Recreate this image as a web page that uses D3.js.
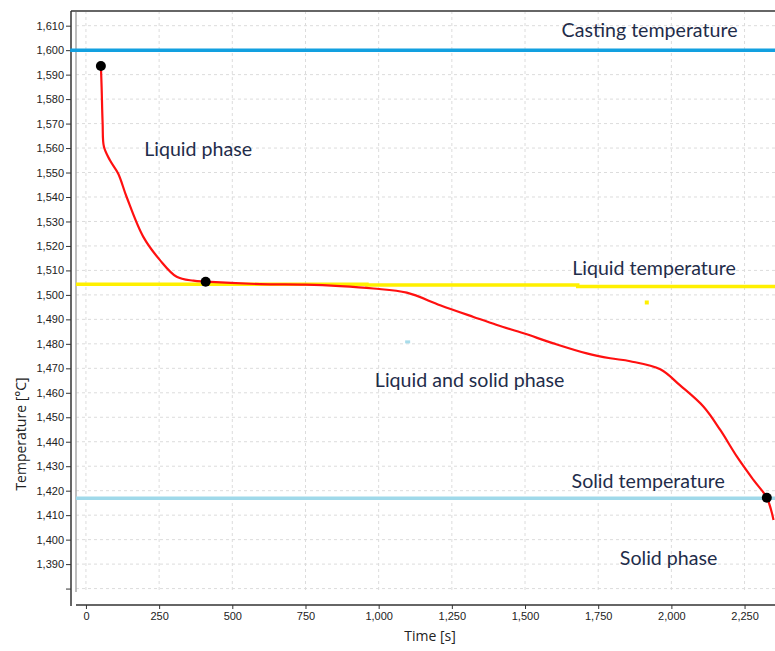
<!DOCTYPE html>
<html>
<head>
<meta charset="utf-8">
<script src="https://d3js.org/d3.v7.min.js"></script>
<style>
  body { margin: 0; background: #fff; }
  svg { display: block; }
</style>
</head>
<body>
<div id="chart"></div>
<script>
// Data (time in s, temperature in °C)
const coolingTime = [51, 53.5, 57, 61.5, 82, 110, 139, 196, 253, 310, 367, 409, 595, 750, 868, 982,
    1096, 1210, 1324, 1404, 1495, 1597, 1711, 1791, 1859, 1962, 2030, 2110, 2167, 2224, 2281, 2326, 2349];
const coolingTemp = [1593.5, 1585, 1570, 1560.5, 1555, 1549.6, 1540, 1523.7, 1514.2, 1507.4, 1505.8, 1505.4,
    1504.4, 1504.2, 1503.6, 1502.6, 1500.9, 1495.8, 1491.0, 1487.7, 1484.3, 1480.2, 1476.1, 1474.1,
    1472.9, 1469.6, 1463.0, 1454.3, 1444.8, 1433.9, 1424.3, 1417.1, 1408.0];

// marked points on the curve
const markTime = [51, 409, 2326];
const markTemp = [1593.5, 1505.4, 1417.1];

// reference temperatures
const castingTemp = 1600;
const solidTemp = 1416.9;
const liquidTime = [-34, 960, 960, 1680, 1680, 2354];
const liquidTemp = [1504.3, 1504.3, 1504.0, 1504.0, 1503.4, 1503.4];

// annotation texts, anchored at their left baseline (time, temperature)
const noteText = ["Casting temperature", "Liquid phase", "Liquid temperature",
    "Liquid and solid phase", "Solid temperature", "Solid phase"];
const noteTime = [1625, 199, 1661, 987, 1659, 1824];
const noteTemp = [1605.4, 1556.7, 1508.1, 1462.2, 1421, 1389.6];

// stray specks in the picture
const speckTime = [1916, 1099];
const speckTemp = [1496.9, 1480.8];

const xTicks = [0, 250, 500, 750, 1000, 1250, 1500, 1750, 2000, 2250];
const yTicks = d3.range(1380, 1611, 10);

const W = 775, H = 651;
const plot = { left: 76, right: 775, top: 11, bottom: 592 };

const svg = d3.select("#chart").append("svg")
    .attr("width", W)
    .attr("height", H);

const x = d3.scaleLinear().domain([-34, 2354]).range([plot.left, plot.right]);
const y = d3.scaleLinear().domain([1378.6, 1616]).range([plot.bottom, plot.top]);

// grid
svg.append("g").selectAll("line").data(xTicks).join("line")
    .attr("x1", d => x(d)).attr("x2", d => x(d))
    .attr("y1", plot.top).attr("y2", plot.bottom)
    .attr("stroke", "#dcdcdc").attr("stroke-dasharray", "3,3");
svg.append("g").selectAll("line").data(yTicks).join("line")
    .attr("x1", plot.left).attr("x2", plot.right)
    .attr("y1", d => y(d)).attr("y2", d => y(d))
    .attr("stroke", "#dcdcdc").attr("stroke-dasharray", "3,3");

// plot frame: grey inner left edge and dark top edge
svg.append("line")
    .attr("x1", plot.left).attr("x2", plot.left)
    .attr("y1", plot.top).attr("y2", plot.bottom)
    .attr("stroke", "#a8a8a8").attr("stroke-width", 1.5);
svg.append("line")
    .attr("x1", plot.left - 5).attr("x2", plot.right)
    .attr("y1", plot.top).attr("y2", plot.top)
    .attr("stroke", "#666").attr("stroke-width", 2);

// axes
const fmt = d3.format(",");
const yAxis = svg.append("g")
    .attr("transform", `translate(${plot.left - 5},0)`)
    .call(d3.axisLeft(y).tickValues(yTicks).tickSize(5).tickPadding(2)
        .tickFormat(d => d === 1380 ? "" : fmt(d)));
yAxis.select(".domain").remove();
yAxis.append("line")
    .attr("y1", plot.top).attr("y2", 606)
    .attr("stroke", "#333").attr("stroke-width", 1.5);

const xAxis = svg.append("g")
    .attr("transform", "translate(0,605)")
    .call(d3.axisBottom(x).tickValues(xTicks).tickSize(4).tickPadding(3).tickFormat(fmt));
xAxis.select(".domain").remove();
xAxis.append("line")
    .attr("x1", plot.left).attr("x2", plot.right)
    .attr("stroke", "#333").attr("stroke-width", 1.5);

svg.selectAll(".tick text")
    .attr("font-family", "Liberation Sans, Arial, sans-serif")
    .attr("font-size", 11)
    .attr("fill", "#222");
svg.selectAll(".tick line").attr("stroke", "#333");

// axis titles
svg.append("text")
    .attr("transform", "translate(26,434) rotate(-90)")
    .attr("text-anchor", "middle")
    .attr("font-family", "'Open Sans', sans-serif")
    .attr("font-size", 14)
    .attr("fill", "#222")
    .text("Temperature [°C]");
svg.append("text")
    .attr("x", 430).attr("y", 641)
    .attr("text-anchor", "middle")
    .attr("font-family", "'Open Sans', sans-serif")
    .attr("font-size", 14)
    .attr("fill", "#222")
    .text("Time [s]");

// reference lines
svg.append("line")
    .attr("x1", x(-54)).attr("x2", x(2354))
    .attr("y1", y(castingTemp)).attr("y2", y(castingTemp))
    .attr("stroke", "#12a0e0").attr("stroke-width", 3.5);

svg.append("path")
    .datum(d3.zip(liquidTime, liquidTemp))
    .attr("fill", "none")
    .attr("stroke", "#fff000")
    .attr("stroke-width", 3.5)
    .attr("d", d3.line().x(d => x(d[0])).y(d => y(d[1])));

svg.append("line")
    .attr("x1", x(-34)).attr("x2", x(2354))
    .attr("y1", y(solidTemp)).attr("y2", y(solidTemp))
    .attr("stroke", "#9fd9ea").attr("stroke-width", 3.5);

// stray specks
svg.append("rect")
    .attr("x", x(speckTime[0]) - 2).attr("y", y(speckTemp[0]) - 2)
    .attr("width", 4).attr("height", 4).attr("fill", "#fff000");
svg.append("rect")
    .attr("x", x(speckTime[1]) - 2.5).attr("y", y(speckTemp[1]) - 1.5)
    .attr("width", 5).attr("height", 3).attr("fill", "#a8dcea");

// cooling curve
svg.append("path")
    .datum(d3.zip(coolingTime, coolingTemp))
    .attr("fill", "none")
    .attr("stroke", "#ff1010")
    .attr("stroke-width", 2.2)
    .attr("d", d3.line().x(d => x(d[0])).y(d => y(d[1])).curve(d3.curveCatmullRom.alpha(0.5)));

svg.append("g").selectAll("circle")
    .data(d3.zip(markTime, markTemp))
    .join("circle")
    .attr("cx", d => x(d[0]))
    .attr("cy", d => y(d[1]))
    .attr("r", 5)
    .attr("fill", "#000");

// annotations
svg.append("g").selectAll("text")
    .data(d3.zip(noteText, noteTime, noteTemp))
    .join("text")
    .attr("x", d => x(d[1]))
    .attr("y", d => y(d[2]))
    .attr("font-family", "Lato, 'Open Sans', sans-serif")
    .attr("font-size", 19.6)
    .attr("fill", "#1f2d4a")
    .text(d => d[0]);
</script>
</body>
</html>
